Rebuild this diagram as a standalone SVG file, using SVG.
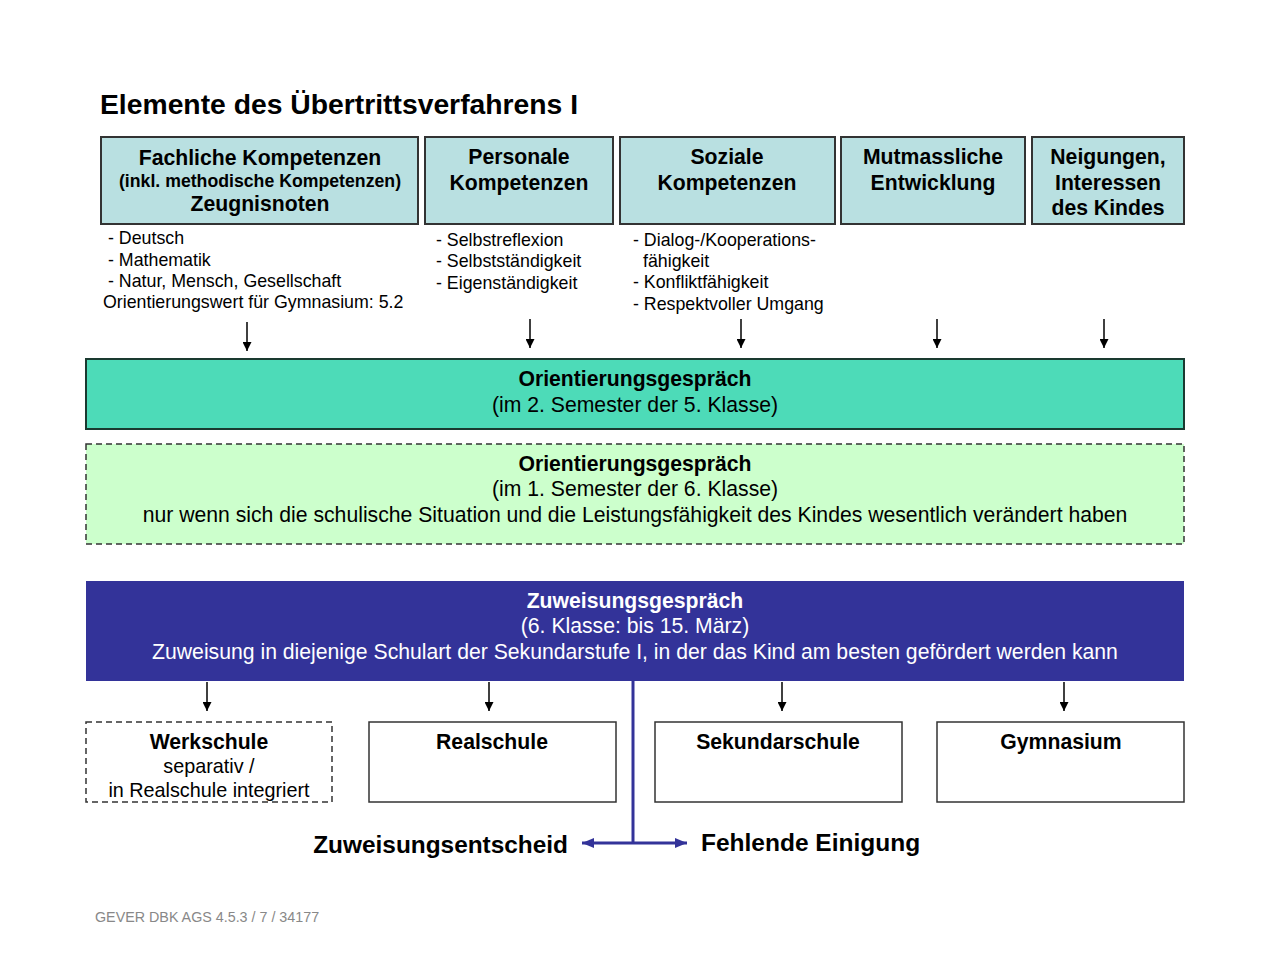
<svg xmlns="http://www.w3.org/2000/svg" width="1280" height="960" viewBox="0 0 1280 960">
<defs>
<style>
text{font-family:"Liberation Sans",Arial,sans-serif;fill:#000}
.b{font-weight:bold}
.h{font-size:21.2px;font-weight:bold;text-anchor:middle}
.c{text-anchor:middle;font-size:21.2px}
.t{font-size:17.8px}
.top{fill:#b9e0e1;stroke:#333;stroke-width:2}
.wb{fill:#fff;stroke:#333;stroke-width:1.5}
.ar{stroke:#000;stroke-width:1.5;fill:none;marker-end:url(#ah)}
.wt{fill:#fff}
</style>
<marker id="ah" markerWidth="9" markerHeight="9" refX="9" refY="4.5" orient="auto" markerUnits="userSpaceOnUse" viewBox="0 0 9 9">
<path d="M0,0 L9,4.5 L0,9 Z" fill="#000"/>
</marker>
<marker id="bh" markerWidth="12" markerHeight="12" refX="12" refY="6" orient="auto" markerUnits="userSpaceOnUse" viewBox="0 0 12 12">
<path d="M0,1 L12,6 L0,11 Z" fill="#333399"/>
</marker>
</defs>
<rect width="1280" height="960" fill="#fff"/>
<text x="100" y="114" class="b" font-size="28.3">Elemente des Übertrittsverfahrens I</text>

<g id="fachliche">
<rect class="top" x="101" y="137" width="317" height="87"/>
<text x="260" y="165" class="h">Fachliche Kompetenzen</text>
<text x="260" y="187" class="h" style="font-size:17.7px">(inkl. methodische Kompetenzen)</text>
<text x="260" y="211" class="h">Zeugnisnoten</text>
<text x="108" y="244" class="t">- Deutsch</text>
<text x="108" y="266" class="t">- Mathematik</text>
<text x="108" y="287" class="t">- Natur, Mensch, Gesellschaft</text>
<text x="103" y="308" class="t">Orientierungswert für Gymnasium: 5.2</text>
</g>
<g id="personale">
<rect class="top" x="425" y="137" width="188" height="87"/>
<text x="519" y="164" class="h">Personale</text>
<text x="519" y="190" class="h">Kompetenzen</text>
<text x="436" y="246" class="t">- Selbstreflexion</text>
<text x="436" y="267" class="t">- Selbstständigkeit</text>
<text x="436" y="289" class="t">- Eigenständigkeit</text>
</g>
<g id="soziale">
<rect class="top" x="620" y="137" width="215" height="87"/>
<text x="727" y="164" class="h">Soziale</text>
<text x="727" y="190" class="h">Kompetenzen</text>
<text x="633" y="246" class="t">- Dialog-/Kooperations-</text>
<text x="643" y="267" class="t">fähigkeit</text>
<text x="633" y="288" class="t">- Konfliktfähigkeit</text>
<text x="633" y="310" class="t">- Respektvoller Umgang</text>
</g>
<g id="mutmassliche">
<rect class="top" x="841" y="137" width="184" height="87"/>
<text x="933" y="164" class="h">Mutmassliche</text>
<text x="933" y="190" class="h">Entwicklung</text>
</g>
<g id="neigungen">
<rect class="top" x="1032" y="137" width="152" height="87"/>
<text x="1108" y="164" class="h">Neigungen,</text>
<text x="1108" y="190" class="h">Interessen</text>
<text x="1108" y="215" class="h">des Kindes</text>
</g>

<g id="orient1">
<rect x="86" y="359" width="1098" height="70" fill="#4ddbb8" stroke="#1a3a30" stroke-width="2"/>
<text x="635" y="386" class="h">Orientierungsgespräch</text>
<text x="635" y="412" class="c">(im 2. Semester der 5. Klasse)</text>
</g>
<g id="orient2">
<rect x="86" y="444" width="1098" height="100" fill="#ccffcc" stroke="#333" stroke-width="1.5" stroke-dasharray="6,4"/>
<text x="635" y="471" class="h">Orientierungsgespräch</text>
<text x="635" y="496" class="c">(im 1. Semester der 6. Klasse)</text>
<text x="635" y="522" class="c">nur wenn sich die schulische Situation und die Leistungsfähigkeit des Kindes wesentlich verändert haben</text>
</g>
<g id="zuweisung">
<rect x="86" y="581" width="1098" height="100" fill="#333399"/>
<text x="635" y="608" class="h wt">Zuweisungsgespräch</text>
<text x="635" y="633" class="c wt">(6. Klasse: bis 15. März)</text>
<text x="635" y="659" class="c wt">Zuweisung in diejenige Schulart der Sekundarstufe I, in der das Kind am besten gefördert werden kann</text>
</g>

<g id="werkschule">
<rect x="86" y="722" width="246" height="80" fill="#fff" stroke="#333" stroke-width="1.5" stroke-dasharray="6,4"/>
<text x="209" y="749" class="h">Werkschule</text>
<text x="209" y="773" class="c" style="font-size:19.8px">separativ /</text>
<text x="209" y="797" class="c" style="font-size:19.8px">in Realschule integriert</text>
</g>
<g id="realschule">
<rect class="wb" x="369" y="722" width="247" height="80"/>
<text x="492" y="749" class="h">Realschule</text>
</g>
<g id="sekundarschule">
<rect class="wb" x="655" y="722" width="247" height="80"/>
<text x="778" y="749" class="h">Sekundarschule</text>
</g>
<g id="gymnasium">
<rect class="wb" x="937" y="722" width="247" height="80"/>
<text x="1061" y="749" class="h">Gymnasium</text>
</g>

<g id="labels">
<text x="568" y="853" class="b" font-size="24.4" text-anchor="end">Zuweisungsentscheid</text>
<text x="701" y="851" class="b" font-size="24.5">Fehlende Einigung</text>
<text x="95" y="922" font-size="14.3" style="fill:#888">GEVER DBK AGS 4.5.3 / 7 / 34177</text>
</g>

<g id="connectors">
<line class="ar" x1="247" y1="322" x2="247" y2="351"/>
<line class="ar" x1="530" y1="319" x2="530" y2="348"/>
<line class="ar" x1="741" y1="319" x2="741" y2="348"/>
<line class="ar" x1="937" y1="319" x2="937" y2="348"/>
<line class="ar" x1="1104" y1="319" x2="1104" y2="348"/>
<line class="ar" x1="207" y1="682" x2="207" y2="711"/>
<line class="ar" x1="489" y1="682" x2="489" y2="711"/>
<line class="ar" x1="782" y1="682" x2="782" y2="711"/>
<line class="ar" x1="1064" y1="682" x2="1064" y2="711"/>
<line x1="633" y1="681" x2="633" y2="843" stroke="#333399" stroke-width="3"/>
<line x1="633" y1="843" x2="582" y2="843" stroke="#333399" stroke-width="3" marker-end="url(#bh)"/>
<line x1="633" y1="843" x2="687" y2="843" stroke="#333399" stroke-width="3" marker-end="url(#bh)"/>
</g>
</svg>
